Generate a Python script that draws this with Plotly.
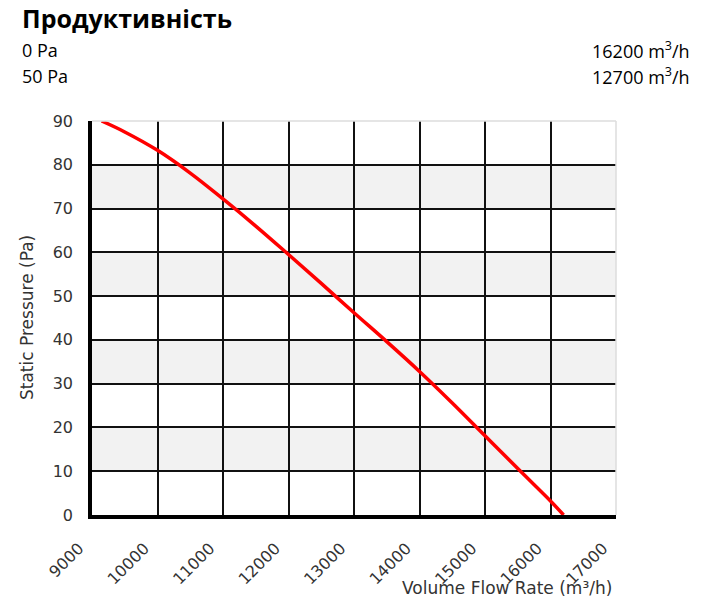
import plotly.graph_objects as go

# Data
flow = [9147, 9500, 10000, 10500, 11000, 11500, 12000, 12500, 13000, 13500, 14000, 14500, 15000, 15500, 16000, 16200]
pressure = [90, 87.5, 83.3, 78.1, 72.2, 66.0, 59.5, 52.9, 46.2, 39.6, 32.8, 25.6, 18.1, 10.6, 3.2, 0]

x_ticks = [9000, 10000, 11000, 12000, 13000, 14000, 15000, 16000, 17000]
y_ticks = [0, 10, 20, 30, 40, 50, 60, 70, 80, 90]
gray_bands = [(10, 20), (30, 40), (50, 60), (70, 80)]

header_left = ["0 Pa", "50 Pa"]
header_right = ["16200 m<sup>3</sup>/h", "12700 m<sup>3</sup>/h"]
title_text = "Продуктивність"
x_title = "Volume Flow Rate (m³/h)"
y_title = "Static Pressure (Pa)"

FONT = "DejaVu Sans"
HFONT = "Open Sans"

# plot-area geometry in window pixels
PL, PR, PT, PB = 92, 616, 121, 515
W, H = 713, 608


def px(x):
    return (x - PL) / (PR - PL)


def py(y):
    return (PB - y) / (PB - PT)


fig = go.Figure()
fig.add_trace(go.Scatter(x=flow, y=pressure, mode="lines",
                         line=dict(color="#ff0000", width=3.5, shape="spline", smoothing=1.0),
                         hoverinfo="skip", showlegend=False))

shapes = []
for y0, y1 in gray_bands:
    shapes.append(dict(type="rect", xref="paper", yref="y", x0=0, x1=1, y0=y0, y1=y1,
                       fillcolor="#f2f2f2", line=dict(width=0), layer="below"))
shapes.append(dict(type="line", xref="paper", yref="paper", x0=0, x1=1, y0=1, y1=1,
                   line=dict(color="#dddddd", width=1.5), layer="above"))
shapes.append(dict(type="line", xref="paper", yref="paper", x0=1, x1=1, y0=0, y1=1,
                   line=dict(color="#dddddd", width=1.5), layer="above"))

annotations = [dict(text=f"<b>{title_text}</b>", xref="paper", yref="paper", x=px(20), y=py(18),
                    xanchor="left", yanchor="middle", showarrow=False,
                    font=dict(family=HFONT, size=25, color="#000"))]
row_y = [50, 76]
for lt, rt, yy in zip(header_left, header_right, row_y):
    annotations.append(dict(text=lt, xref="paper", yref="paper", x=px(20), y=py(yy),
                            xanchor="left", yanchor="middle", showarrow=False,
                            font=dict(family=HFONT, size=18, color="#000")))
    annotations.append(dict(text=rt, xref="paper", yref="paper", x=px(692), y=py(yy),
                            xanchor="right", yanchor="middle", showarrow=False,
                            font=dict(family=HFONT, size=18, color="#000")))
annotations.append(dict(text=x_title, xref="paper", yref="paper", x=px(614), y=py(588),
                        xanchor="right", yanchor="middle", showarrow=False,
                        font=dict(family=FONT, size=17, color="#333")))
annotations.append(dict(text=y_title, xref="paper", yref="paper", x=px(27), y=py(318),
                        xanchor="center", yanchor="middle", showarrow=False, textangle=-90,
                        font=dict(family=FONT, size=17, color="#333")))

fig.update_layout(
    width=W, height=H,
    margin=dict(l=PL, r=W - PR, t=PT, b=H - PB),
    paper_bgcolor="white", plot_bgcolor="white",
    shapes=shapes, annotations=annotations,
    xaxis=dict(range=[9000, 17000], tickvals=x_ticks, ticktext=[str(v) for v in x_ticks],
               tickangle=-45, showgrid=True, gridcolor="#111", gridwidth=1.6,
               showline=True, linecolor="#000", linewidth=3.5, zeroline=False,
               tickfont=dict(family=FONT, size=16, color="#333"), ticks="",
               ticklabelstandoff=14, ticklabelshift=-13,
               fixedrange=True),
    yaxis=dict(range=[0, 90], tickvals=y_ticks, showgrid=True, gridcolor="#111", gridwidth=1.6,
               showline=True, linecolor="#000", linewidth=3.5, zeroline=False,
               tickfont=dict(family=FONT, size=16, color="#333"), ticks="",
               ticklabelstandoff=12,
               fixedrange=True),
)

fig.write_html("out.html", config={"displayModeBar": False},
               post_script="document.body.style.margin='0';document.body.style.overflow='hidden';")
